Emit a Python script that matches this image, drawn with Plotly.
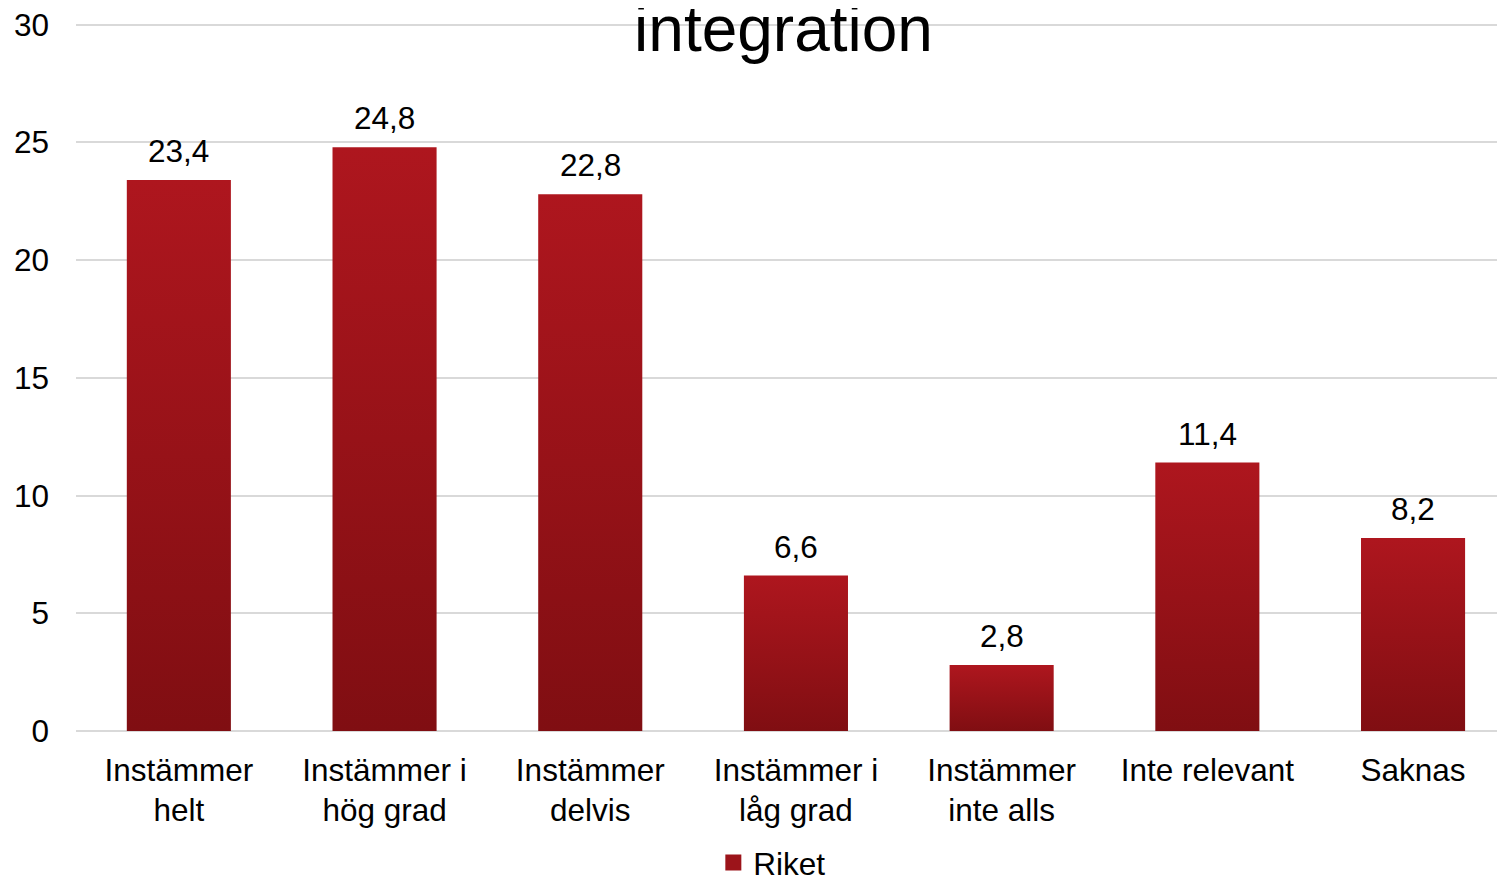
import plotly.graph_objects as go

categories = ["Instämmer<br>helt", "Instämmer i<br>hög grad", "Instämmer<br>delvis",
              "Instämmer i<br>låg grad", "Instämmer<br>inte alls", "Inte relevant", "Saknas"]
riket = [23.4, 24.8, 22.8, 6.6, 2.8, 11.4, 8.2]
y_ticks = [0, 5, 10, 15, 20, 25, 30]

FONT = "Liberation Sans, Arial, sans-serif"
FS = 31.5
half = 0.253  # half bar width in category units
grad = [[0, "#800E12"], [1, "#AE161E"]]

fig = go.Figure()
for i, v in enumerate(riket):
    fig.add_trace(go.Scatter(
        x=[i - half, i - half, i + half, i + half, i - half],
        y=[0, v, v, 0, 0],
        fill="toself", mode="none",
        fillgradient=dict(type="vertical", colorscale=grad),
        showlegend=False, hoverinfo="skip",
    ))

# legend entry only (square swatch like the original)
fig.add_trace(go.Scatter(x=[None], y=[None], mode="markers", name="Riket",
                         marker=dict(symbol="square", size=18, color="#9C141A")))

labels = [f"{v:.1f}".replace(".", ",") for v in riket]
for i, v in enumerate(riket):
    fig.add_annotation(x=i, y=v, text=labels[i], showarrow=False,
                       yanchor="bottom", yshift=9,
                       font=dict(size=FS, color="black", family=FONT))

fig.update_layout(
    width=1505, height=879,
    margin=dict(l=68, r=8, t=12.3, b=156, autoexpand=False),
    paper_bgcolor="white", plot_bgcolor="white",
    font=dict(family=FONT, size=FS, color="black"),
    title=dict(text="integration", font=dict(size=64, color="black", family=FONT),
               xref="container", x=0.5153, xanchor="center",
               yref="container", y=1 - 21 / 879, yanchor="middle"),
    legend=dict(orientation="h", xanchor="left", x=0.446, yanchor="middle", y=-0.185,
                font=dict(size=FS), itemsizing="trace"),
    xaxis=dict(range=[-0.5, 6.447], tickvals=list(range(len(categories))), ticktext=categories,
               showgrid=False, zeroline=False, showline=False, ticklabelstandoff=17,
               fixedrange=True, automargin=False),
    yaxis=dict(range=[0, 30.2], tickvals=y_ticks, showgrid=True, gridcolor="#D9D9D9",
               gridwidth=2, zeroline=True, zerolinecolor="#D9D9D9", zerolinewidth=2,
               showline=False, ticklabelstandoff=26, ticklabeloverflow="allow",
               fixedrange=True, automargin=False),
)

fig.write_html("out.html")
